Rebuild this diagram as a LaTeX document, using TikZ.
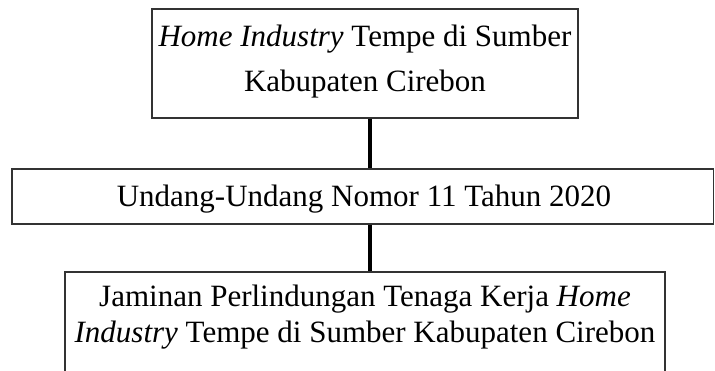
\documentclass[tikz,border=0pt]{standalone}
\usepackage{fontspec}
\setmainfont{Liberation Serif}
\begin{document}
\begin{tikzpicture}[x=1pt,y=1pt,
  box/.style={draw=black!80, line width=1.3pt, inner sep=0pt},
  txt/.style={inner sep=0pt, anchor=base, font=\fontsize{31}{36}\selectfont},
  conn/.style={line width=4pt, black}]
\clip (0,0) rectangle (715,370);
\useasboundingbox (0,0) rectangle (715,370);
% boxes
\node[box, minimum width=426pt, minimum height=109pt] (top) at (365,306.5) {};
\node[box, minimum width=701.5pt, minimum height=55pt] (mid) at (362.75,173.5) {};
\node[box, minimum width=600pt, minimum height=118pt] (bot) at (365,39) {};
% texts
\node[txt] (top1) at (365,323) {\textit{Home Industry} Tempe di Sumber};
\node[txt] (top2) at (365,278) {Kabupaten Cirebon};
\node[txt] (midtext) at (364,163) {Undang-Undang Nomor 11 Tahun 2020};
\node[txt] (bot1) at (365,64) {Jaminan Perlindungan Tenaga Kerja \textit{Home}};
\node[txt] (bot2) at (365,28) {\textit{Industry} Tempe di Sumber Kabupaten Cirebon};
% connectors
\coordinate (cx) at (369.5,0);
\draw[conn] (top.south -| cx) -- (mid.north -| cx);
\draw[conn] (mid.south -| cx) -- (bot.north -| cx);
\end{tikzpicture}
\end{document}
